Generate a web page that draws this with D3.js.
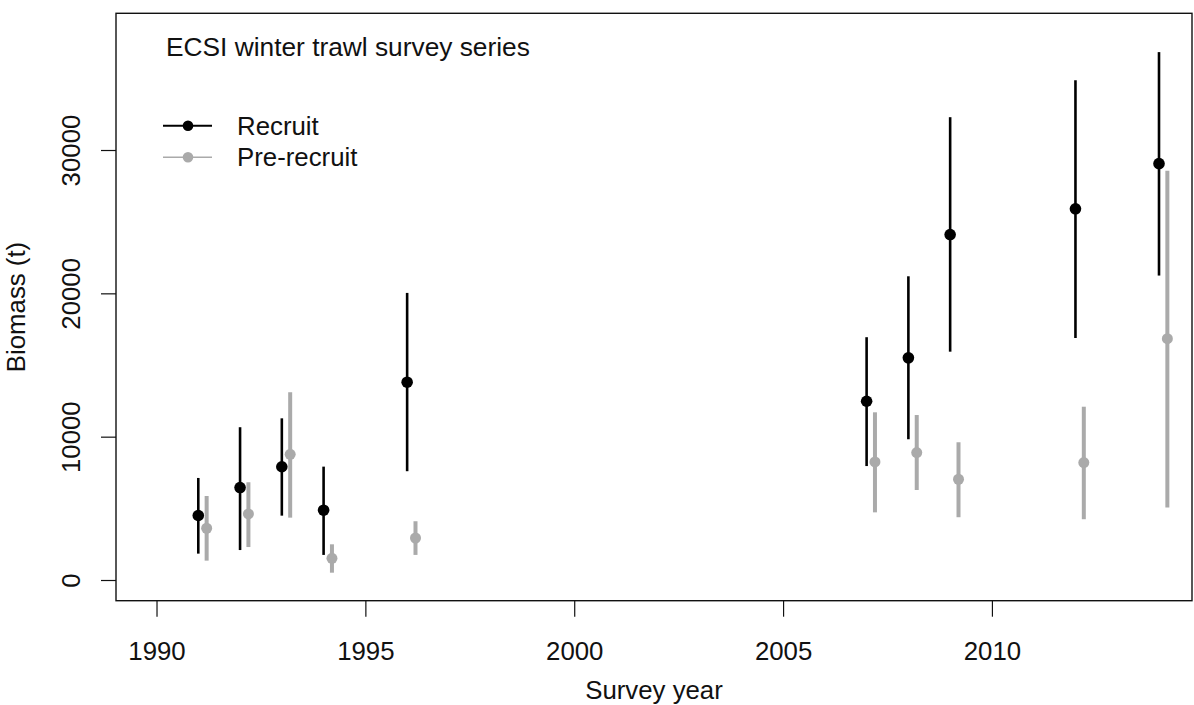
<!DOCTYPE html>
<html>
<head>
<meta charset="utf-8">
<script src="https://cdn.jsdelivr.net/npm/d3@7"></script>
<style>
  html, body { margin: 0; padding: 0; background: #fff; }
  svg { display: block; }
  text { font-family: "Liberation Sans", Arial, sans-serif; fill: #111; }
</style>
</head>
<body>
<svg id="chart" width="1194" height="705"></svg>
<script>
// Survey years and biomass estimates (t) with 95% interval bounds
const recruitYears = [1991, 1992, 1993, 1994, 1996, 2007, 2008, 2009, 2012, 2014];
const recruitBiomass = [4500, 6450, 7900, 4870, 13800, 12470, 15500, 24100, 25900, 29050];
const recruitLower = [1840, 2090, 4490, 1750, 7590, 7950, 9820, 15930, 16890, 21240];
const recruitUpper = [7120, 10660, 11280, 7910, 20030, 16940, 21190, 32290, 34870, 36830];

const preRecruitYears = [1991, 1992, 1993, 1994, 1996, 2007, 2008, 2009, 2012, 2014];
const preRecruitBiomass = [3610, 4610, 8770, 1510, 2930, 8240, 8890, 7030, 8190, 16840];
const preRecruitLower = [1350, 2300, 4350, 510, 1750, 4720, 6280, 4380, 4240, 5050];
const preRecruitUpper = [5860, 6820, 13100, 2490, 4100, 11700, 11510, 9610, 12090, 28560];

const xTicks = [1990, 1995, 2000, 2005, 2010];
const yTicks = [0, 10000, 20000, 30000];

const titleText = "ECSI winter trawl survey series";
const xLabel = "Survey year";
const yLabel = "Biomass (t)";
const legendLabels = ["Recruit", "Pre-recruit"];

// Layout
const plot = { left: 116, right: 1192, top: 13.3, bottom: 600.7 };
const preOffset = 0.2;          // pre-recruit points are nudged right of the survey year
const black = "#000000", grey = "#aaaaaa";
const fontSize = 25.8;
const fontFamily = "Liberation Sans, Arial, sans-serif";

const svg = d3.select("#chart");

const x = d3.scaleLinear().domain([1989.03, 2014.79]).range([plot.left, plot.right]);
const y = d3.scaleLinear().domain([-1444, 39538]).range([plot.bottom, plot.top]);

// Frame around the plotting region
svg.append("rect")
  .attr("x", plot.left).attr("y", plot.top)
  .attr("width", plot.right - plot.left).attr("height", plot.bottom - plot.top)
  .attr("fill", "none").attr("stroke", "#111").attr("stroke-width", 1.4);

// Bottom axis
const xAxis = svg.append("g")
  .attr("transform", `translate(0,${plot.bottom})`)
  .call(d3.axisBottom(x).tickValues(xTicks).tickFormat(d3.format("d")).tickSize(16).tickPadding(25));
xAxis.select(".domain").remove();
xAxis.selectAll(".tick line").attr("stroke", "#111").attr("stroke-width", 1.2);
xAxis.selectAll(".tick text")
  .attr("font-size", fontSize).attr("fill", "#111")
  .attr("font-family", fontFamily);

// Left axis, labels written parallel to the axis
const yAxis = svg.append("g")
  .attr("transform", `translate(${plot.left},0)`)
  .call(d3.axisLeft(y).tickValues(yTicks).tickFormat(d3.format("d")).tickSize(15).tickPadding(0));
yAxis.select(".domain").remove();
yAxis.selectAll(".tick line").attr("stroke", "#111").attr("stroke-width", 1.2);
yAxis.selectAll(".tick text")
  .attr("font-size", fontSize).attr("fill", "#111")
  .attr("font-family", fontFamily)
  .attr("x", null).attr("dy", null)
  .attr("text-anchor", "middle")
  .attr("transform", "translate(-36,0) rotate(-90)");

// Axis titles
svg.append("text")
  .attr("x", (plot.left + plot.right) / 2).attr("y", 699)
  .attr("text-anchor", "middle").attr("font-size", fontSize)
  .text(xLabel);

svg.append("text")
  .attr("transform", `translate(25,${(plot.top + plot.bottom) / 2}) rotate(-90)`)
  .attr("text-anchor", "middle").attr("font-size", fontSize)
  .text(yLabel);

// Series drawn as interval segments with a point at the estimate
function drawSeries(years, vals, lo, hi, offset, color, lineW, r) {
  const rows = years.map((yr, i) => ({ yr: yr + offset, v: vals[i], lo: lo[i], hi: hi[i] }));
  const g = svg.append("g");
  g.selectAll("line").data(rows).join("line")
    .attr("x1", d => x(d.yr)).attr("x2", d => x(d.yr))
    .attr("y1", d => y(d.lo)).attr("y2", d => y(d.hi))
    .attr("stroke", color).attr("stroke-width", lineW);
  g.selectAll("circle").data(rows).join("circle")
    .attr("cx", d => x(d.yr)).attr("cy", d => y(d.v))
    .attr("r", r).attr("fill", color);
}

drawSeries(recruitYears, recruitBiomass, recruitLower, recruitUpper, 0, black, 2.6, 5.8);
drawSeries(preRecruitYears, preRecruitBiomass, preRecruitLower, preRecruitUpper, preOffset, grey, 4, 5.5);

// Title inside the plot
svg.append("text")
  .attr("x", 166).attr("y", 56)
  .attr("font-size", 26.3)
  .text(titleText);

// Legend
const legend = svg.append("g");
const legendRows = [
  { label: legendLabels[0], color: black, y: 125.7, w: 2 },
  { label: legendLabels[1], color: grey, y: 157.2, w: 1.6 }
];
legendRows.forEach(row => {
  legend.append("line")
    .attr("x1", 163).attr("x2", 212).attr("y1", row.y).attr("y2", row.y)
    .attr("stroke", row.color).attr("stroke-width", row.w);
  legend.append("circle")
    .attr("cx", 188).attr("cy", row.y).attr("r", 5.3).attr("fill", row.color);
  legend.append("text")
    .attr("x", 237).attr("y", row.y + 9.2)
    .attr("font-size", fontSize)
    .text(row.label);
});
</script>
</body>
</html>
